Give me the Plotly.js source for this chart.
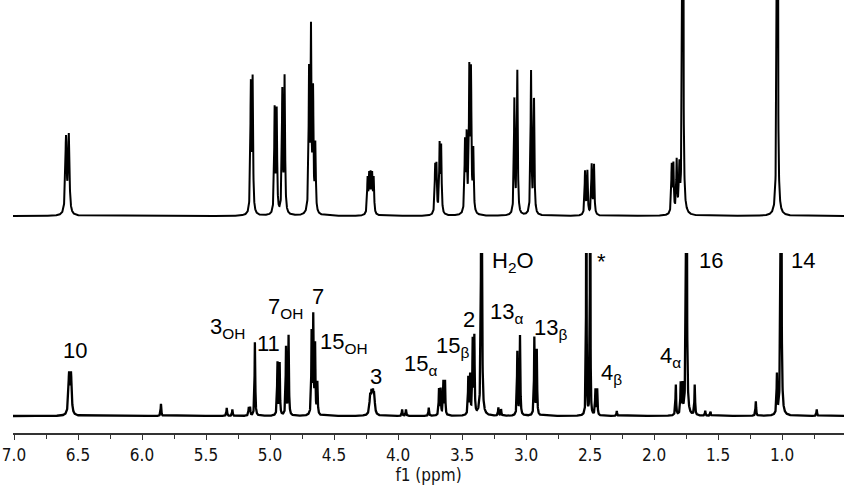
<!DOCTYPE html>
<html>
<head>
<meta charset="utf-8">
<script src="https://cdn.plot.ly/plotly-3.0.1.min.js"></script>
<style>
  html, body { margin: 0; padding: 0; background: #fff; }
  #nmr { width: 851px; height: 488px; }
</style>
</head>
<body>
<div id="nmr"></div>
<script>
// simulated spectrum (top): line positions in ppm, heights, half widths
const simPpm = [6.594, 6.572, 5.150, 5.136, 4.964, 4.948, 4.904, 4.886,
  4.695, 4.680, 4.664, 4.646, 4.238, 4.226, 4.214, 4.202, 4.190,
  3.710, 3.700, 3.675, 3.663, 3.477, 3.464, 3.443, 3.430, 3.412,
  3.091, 3.068, 2.961, 2.938, 2.539, 2.521, 2.487, 2.469,
  1.862, 1.849, 1.823, 1.802, 1.776, 1.037];
const simHeight = [35, 36, 59, 61, 48, 47, 56, 63,
  64, 82, 54, 31, 16, 17, 17, 17, 16,
  21, 21, 31, 30, 32, 34, 64, 63, 28,
  53, 66, 66, 53, 20, 20, 23, 23,
  22, 22, 24, 20, 400, 400];
const simWidth = [0.006, 0.006, 0.004, 0.004, 0.004, 0.004, 0.004, 0.004,
  0.004, 0.004, 0.004, 0.004, 0.004, 0.004, 0.004, 0.004, 0.004,
  0.004, 0.004, 0.004, 0.004, 0.004, 0.004, 0.004, 0.004, 0.004,
  0.004, 0.004, 0.004, 0.004, 0.004, 0.004, 0.004, 0.004,
  0.004, 0.004, 0.004, 0.004, 0.003, 0.003];

// measured spectrum (bottom)
const expPpm = [6.570, 6.555, 5.852, 5.338, 5.294, 5.166, 5.156, 5.118,
  4.942, 4.925, 4.875, 4.855, 4.675, 4.662, 4.648, 4.630,
  4.218, 4.207, 4.196, 4.186, 3.968, 3.938, 3.760,
  3.680, 3.667, 3.646, 3.633, 3.451, 3.437, 3.417, 3.404, 3.348,
  3.216, 3.195, 3.068, 3.047, 2.935, 2.916, 2.529, 2.499, 2.458, 2.444,
  2.291, 1.830, 1.792, 1.778, 1.747, 1.682, 1.600, 1.560, 1.205,
  1.040, 1.008, 0.729];
const expHeight = [24, 24, 7.5, 5, 4, 5, 5, 46,
  33, 32, 42, 49, 50, 60, 42, 20,
  10, 11, 11, 10, 4, 4, 5,
  16, 16, 21, 21, 23, 24, 45, 47, 300,
  5, 4, 39, 49, 48, 40, 300, 300, 16, 16,
  3, 19, 19, 18, 300, 19, 3, 2.5, 9,
  24, 300, 4];
const expWidth = [0.006, 0.006, 0.003, 0.003, 0.003, 0.003, 0.003, 0.003,
  0.003, 0.003, 0.003, 0.003, 0.003, 0.003, 0.003, 0.003,
  0.006, 0.006, 0.006, 0.006, 0.003, 0.003, 0.003,
  0.003, 0.003, 0.003, 0.003, 0.003, 0.003, 0.003, 0.003, 0.003,
  0.003, 0.003, 0.003, 0.003, 0.003, 0.003, 0.0015, 0.0015, 0.003, 0.003,
  0.003, 0.003, 0.003, 0.003, 0.003, 0.003, 0.003, 0.003, 0.003,
  0.003, 0.003, 0.003];

// peak assignments on the measured spectrum
const labelText = ['10', '3<sub>OH</sub>', '11', '7<sub>OH</sub>', '7', '15<sub>OH</sub>', '3',
  '15<sub>α</sub>', '15<sub>β</sub>', '2', 'H<sub>2</sub>O', '13<sub>α</sub>', '13<sub>β</sub>',
  '*', '4<sub>β</sub>', '4<sub>α</sub>', '16', '14'];
const labelPpm = [6.521, 5.332, 5.012, 4.879, 4.625, 4.422, 4.172,
  3.824, 3.574, 3.445, 3.105, 3.156, 2.809,
  2.409, 2.336, 1.875, 1.557, 0.834];
const labelLevel = [40.1, 54.0, 44.4, 66.3, 73.2, 44.5, 24.1,
  31.3, 42.5, 58.9, 94.7, 63.2, 53.4,
  95.0, 25.8, 35.9, 95.3, 95.3];

const xLeft = 7.008, xRight = 0.516;

// sample the line shapes on a fine ppm grid
const grid = [];
for (let v = xRight; v <= xLeft; v += 0.0008) grid.push(v);

function lineShape(pos, amp, hw) {
  return grid.map(x => {
    let s = 0;
    for (let i = 0; i < pos.length; i++) {
      const d = x - pos[i];
      s += amp[i] * hw[i] * hw[i] / (hw[i] * hw[i] + d * d);
    }
    return s;
  });
}

const simTrace = {
  x: grid,
  y: lineShape(simPpm, simHeight, simWidth),
  yaxis: 'y2',
  mode: 'lines',
  line: { color: '#000', width: 2 },
  hoverinfo: 'skip',
  showlegend: false,
  type: 'scatter',
};

const expTrace = {
  x: grid,
  y: lineShape(expPpm, expHeight, expWidth),
  mode: 'lines',
  line: { color: '#000', width: 2.3 },
  hoverinfo: 'skip',
  showlegend: false,
  type: 'scatter',
};

const axisFont = { family: 'DejaVu Sans Condensed, DejaVu Sans, sans-serif', size: 17, color: '#111' };

const annotations = labelText.map((t, i) => ({
  text: t,
  x: labelPpm[i],
  y: labelLevel[i],
  xref: 'x',
  yref: 'y',
  xanchor: 'center',
  yanchor: 'middle',
  showarrow: false,
  font: { family: 'Liberation Sans, Arial, sans-serif', size: 22, color: '#000' },
}));

const layout = {
  width: 851,
  height: 488,
  paper_bgcolor: 'white',
  plot_bgcolor: 'white',
  margin: { l: 13, r: 7, t: 0, b: 55 },
  xaxis: {
    range: [xLeft, xRight],
    showgrid: false,
    zeroline: false,
    showline: true,
    linecolor: '#333',
    linewidth: 1.5,
    ticks: 'outside',
    ticklen: 5,
    tickcolor: '#333',
    tick0: 0,
    dtick: 0.5,
    tickformat: '.1f',
    ticklabelstandoff: 1,
    minor: { dtick: 0.25, ticks: 'outside', ticklen: 4, tickcolor: '#333' },
    tickfont: axisFont,
    title: { text: 'f1 (ppm)', standoff: 0, font: axisFont },
  },
  yaxis: {
    domain: [0, 0.4157],
    range: [-10.43, 100],
    visible: false,
  },
  yaxis2: {
    domain: [0.4688, 1],
    range: [-6.48, 100],
    visible: false,
  },
  annotations: annotations,
};

Plotly.newPlot('nmr', [simTrace, expTrace], layout, { staticPlot: true });
</script>
</body>
</html>
